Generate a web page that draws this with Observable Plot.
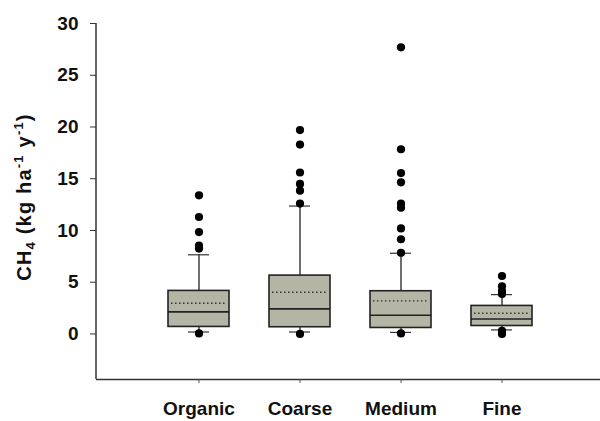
<!DOCTYPE html>
<html><head><meta charset="utf-8">
<script src="https://cdn.jsdelivr.net/npm/d3@7"></script>
<script src="https://cdn.jsdelivr.net/npm/@observablehq/plot@0.6"></script>
<style>
body{margin:0;background:#fff;}
svg{font-family:"Liberation Sans",Arial,sans-serif;}
</style></head>
<body><div id="chart"></div>
<script>
const categories = ["Organic", "Coarse", "Medium", "Fine"];
const q1 = [0.68, 0.65, 0.58, 0.77];
const median = [2.13, 2.42, 1.81, 1.45];
const q3 = [4.16, 5.64, 4.13, 2.71];
const mean = [2.97, 4.03, 3.19, 2.0];
const whiskerLow = [0.19, 0.19, 0.15, 0.39];
const whiskerHigh = [7.65, 12.36, 7.8, 3.8];
const outliers = {
  Organic: [13.4, 11.3, 9.85, 8.55, 8.25, 0.05],
  Coarse: [19.7, 18.3, 15.6, 14.5, 13.85, 12.6, 0.0],
  Medium: [27.7, 17.85, 15.55, 14.65, 12.6, 12.2, 10.2, 9.15, 7.85, 0.05],
  Fine: [5.6, 4.6, 4.15, 3.85, 0.3, 0.0]
};
const yTicks = [0, 5, 10, 15, 20, 25, 30];
const yDomain = [-4.4, 30];

const boxes = categories.map((c, i) => ({cat: c, q1: q1[i], med: median[i], q3: q3[i], mean: mean[i], lo: whiskerLow[i], hi: whiskerHigh[i]}));
const pts = categories.flatMap(c => outliers[c].map(v => ({cat: c, v})));

const W = 600, H = 421, mL = 96, mT = 23, mB = 42;
const plot = Plot.plot({
  width: W, height: H,
  marginLeft: mL, marginRight: 0, marginTop: mT, marginBottom: mB,
  style: {fontFamily: "'Liberation Sans', Arial, sans-serif", background: "#fff"},
  x: {type: "band", domain: categories, range: [mL, 604], paddingInner: 0.4, paddingOuter: 0.7, label: null},
  y: {domain: yDomain, label: null},
  marks: [
    Plot.ruleY([yDomain[0]], {stroke: "#333", strokeWidth: 1.5}),
    Plot.axisX({tickSize: 4, tickPadding: 18, fontSize: 19, fontWeight: "bold", fill: "#111", stroke: "#555", label: null, style: {letterSpacing: "1.5px"}}),
    Plot.axisY({ticks: yTicks, tickSize: 6, tickPadding: 12, fontSize: 19, fontWeight: "bold", fill: "#111", stroke: "#333", label: null, style: {letterSpacing: "1px"}}),
    Plot.ruleX(boxes, {x: "cat", y1: "lo", y2: "hi", stroke: "#222", strokeWidth: 1.3}),
    Plot.tickY(boxes, {x: "cat", y: "lo", insetLeft: 20, insetRight: 20, stroke: "#333", strokeWidth: 1.2}),
    Plot.tickY(boxes, {x: "cat", y: "hi", insetLeft: 20, insetRight: 20, stroke: "#333", strokeWidth: 1.2}),
    Plot.barY(boxes, {x: "cat", y1: "q1", y2: "q3", fill: "#b5b5a5", stroke: "#222", strokeWidth: 1.6}),
    Plot.tickY(boxes, {x: "cat", y: "med", stroke: "#222", strokeWidth: 1.6}),
    Plot.tickY(boxes, {x: "cat", y: "mean", insetLeft: 3, insetRight: 3, stroke: "#333", strokeWidth: 1.3, strokeDasharray: "1.5,2.5"}),
    Plot.dot(pts, {x: "cat", y: "v", r: 4.1, fill: "#000", stroke: null})
  ]
});
document.getElementById("chart").append(plot);
const svg = d3.select(plot);
const y = plot.scale("y");
svg.append("line").attr("x1", mL).attr("x2", mL)
  .attr("y1", y.apply(yTicks[yTicks.length - 1])).attr("y2", y.apply(yDomain[0]))
  .attr("stroke", "#333").attr("stroke-width", 1.5);
const t = svg.append("text")
  .attr("transform", `translate(31,${(y.apply(30) + y.apply(yDomain[0])) / 2 - 4}) rotate(-90)`)
  .attr("text-anchor", "middle").attr("font-size", 20).attr("font-weight", "bold").attr("fill", "#111")
  .style("letter-spacing", "1.2px");
t.append("tspan").text("CH");
t.append("tspan").attr("font-size", 13).attr("dy", 4).text("4");
t.append("tspan").attr("dy", -4).text(" (kg ha");
t.append("tspan").attr("font-size", 13).attr("dy", -8).text("-1");
t.append("tspan").attr("dy", 8).text(" y");
t.append("tspan").attr("font-size", 13).attr("dy", -8).text("-1");
t.append("tspan").attr("dy", 8).text(")");
</script></body></html>
